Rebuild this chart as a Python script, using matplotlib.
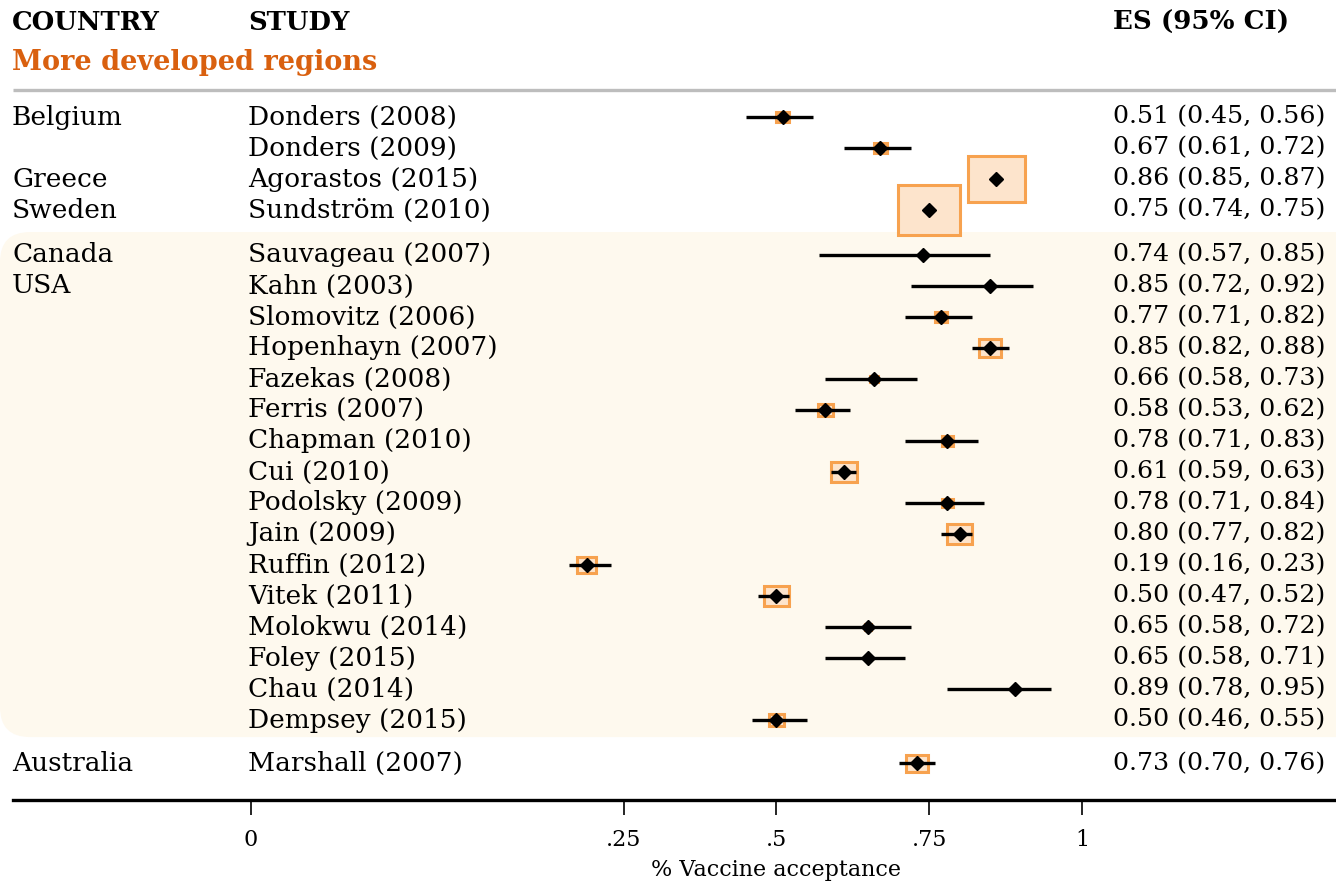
import matplotlib
matplotlib.use("Agg")
import matplotlib.pyplot as plt
from matplotlib.patches import Rectangle, FancyBboxPatch
import matplotlib.transforms as mtransforms

plt.rcParams['font.family'] = ['DejaVu Serif']

# data
countries = ["Belgium", "", "Greece", "Sweden", "Canada", "USA", "", "", "", "", "",
             "", "", "", "", "", "", "", "", "", "Australia"]
studies = ["Donders (2008)", "Donders (2009)", "Agorastos (2015)", "Sundström (2010)",
           "Sauvageau (2007)", "Kahn (2003)", "Slomovitz (2006)", "Hopenhayn (2007)",
           "Fazekas (2008)", "Ferris (2007)", "Chapman (2010)", "Cui (2010)",
           "Podolsky (2009)", "Jain (2009)", "Ruffin (2012)", "Vitek (2011)",
           "Molokwu (2014)", "Foley (2015)", "Chau (2014)", "Dempsey (2015)",
           "Marshall (2007)"]
es = [0.51, 0.67, 0.86, 0.75, 0.74, 0.85, 0.77, 0.85, 0.66, 0.58, 0.78, 0.61,
      0.78, 0.80, 0.19, 0.50, 0.65, 0.65, 0.89, 0.50, 0.73]
lo = [0.45, 0.61, 0.85, 0.74, 0.57, 0.72, 0.71, 0.82, 0.58, 0.53, 0.71, 0.59,
      0.71, 0.77, 0.16, 0.47, 0.58, 0.58, 0.78, 0.46, 0.70]
hi = [0.56, 0.72, 0.87, 0.75, 0.85, 0.92, 0.82, 0.88, 0.73, 0.62, 0.83, 0.63,
      0.84, 0.82, 0.23, 0.52, 0.72, 0.71, 0.95, 0.55, 0.76]
# study weights (%)
weights = [1.4, 1.4, 27.8, 32.9, 0.08, 0.08, 1.2, 4.1, 0.5, 1.9, 1.2, 5.8,
           0.9, 5.3, 3.1, 5.3, 0.4, 0.3, 0.03, 1.9, 4.1]
# group of each row: 0 = Europe, 1 = North America, 2 = Australia
groups = [0, 0, 0, 0] + [1] * 16 + [2]

tick_pos = [-0.36, 0.25, 0.5, 0.75, 1.0]
tick_lab = ["0", ".25", ".5", ".75", "1"]

orange_edge = "#f7a24f"
orange_fill = "#fde4cc"
band_col = "#fef9ee"

fig = plt.figure(figsize=(13.36, 8.85), dpi=100)
ax = fig.add_axes([0, 1 - 800 / 885, 1, 800 / 885])
xlim = (-0.7707, 1.4159)
ylim = (22.03, -3.774)
ax.set_xlim(xlim)
ax.set_ylim(ylim)

px_x = 1336 / (xlim[1] - xlim[0])
px_y = 800 / (ylim[0] - ylim[1])

# row positions with gaps between groups
ypos = []
for i, g in enumerate(groups):
    ypos.append(i + 0.45 * (g >= 1) + 0.4 * (g >= 2))

trans = mtransforms.blended_transform_factory(ax.transAxes, ax.transData)

# shaded band for North America
na = [y for y, g in zip(ypos, groups) if g == 1]
y0 = min(na) - 0.74
y1 = max(na) + 0.55
r = 30 / px_x
band = FancyBboxPatch((xlim[0], y0), xlim[1] + 0.5 - xlim[0], y1 - y0,
                      boxstyle="round,pad=0,rounding_size=%f" % r,
                      mutation_aspect=px_x / px_y, fc=band_col, ec="none", zorder=0)
ax.add_patch(band)

# header
ax.text(0.009, -3.06, "COUNTRY", transform=trans, fontsize=18.6, fontweight="bold", va="center")
ax.text(0.1856, -3.06, "STUDY", transform=trans, fontsize=18.6, fontweight="bold", va="center")
ax.text(0.833, -3.06, "ES (95% CI)", transform=trans, fontsize=18.8, fontweight="bold", va="center")
ax.text(0.009, -1.77, "More developed regions", transform=trans, fontsize=19.5,
        fontweight="bold", color="#d9600f", va="center")
ax.plot([0.01, 1], [-0.871, -0.871], transform=trans, color="#bdbdbd", lw=2.4,
        solid_capstyle="butt")

for i in range(len(studies)):
    y = ypos[i]
    side = 10.81 * weights[i] ** 0.5
    w = side / px_x
    h = side / 1.25 / px_y
    if side > 3:
        ax.add_patch(Rectangle((es[i] - w / 2, y - h / 2), w, h, fc=orange_fill,
                               ec=orange_edge, lw=2.2, zorder=2))
    ax.plot([lo[i], hi[i]], [y, y], color="black", lw=2.4, solid_capstyle="butt", zorder=3)
    ax.plot(es[i], y, marker="D", color="black", ms=7, zorder=4)
    ax.text(0.009, y, countries[i], transform=trans, fontsize=19, va="center")
    ax.text(0.1856, y, studies[i], transform=trans, fontsize=19, va="center")
    ax.text(0.833, y, "%.2f (%.2f, %.2f)" % (es[i], lo[i], hi[i]), transform=trans,
            fontsize=18.2, va="center")

# x axis
for s in ["top", "left", "right"]:
    ax.spines[s].set_visible(False)
ax.spines["bottom"].set_linewidth(2.4)
ax.spines["bottom"].set_bounds(xlim[0] + 13 / px_x, xlim[1])
ax.set_yticks([])
ax.set_xticks(tick_pos)
ax.set_xticklabels(tick_lab, fontsize=16)
ax.tick_params(axis="x", length=11, width=1.2, pad=10)
ax.text(0.5, -0.0875, "% Vaccine acceptance", transform=mtransforms.blended_transform_factory(
    ax.transData, ax.transAxes), fontsize=16, ha="center", va="center", clip_on=False)

fig.savefig("out.png", dpi=100)
